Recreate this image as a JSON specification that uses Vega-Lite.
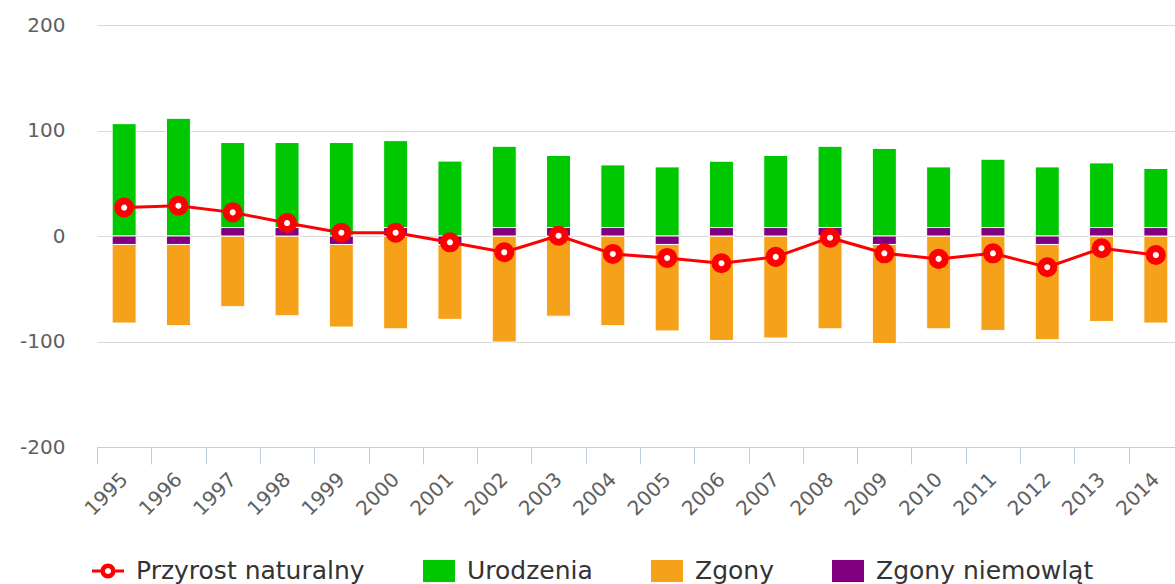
{
  "$schema": "https://vega.github.io/schema/vega-lite/v6.json",
  "width": 1078,
  "height": 422,
  "autosize": {"type": "none"},
  "padding": {"left": 97, "top": 25, "right": 0, "bottom": 137},
  "background": "white",
  "config": {"view": {"stroke": null}, "font": "DejaVu Sans"},
  "data": {
    "values": [
      {"year": "1995", "series": "Urodzenia", "value": 106.5, "ord": 1},
      {"year": "1995", "series": "Zgony", "value": -74.5, "ord": 1},
      {"year": "1995", "series": "Zgony niemowląt", "value": -8, "ord": 0},
      {"year": "1995", "series": "Przyrost naturalny", "value": 27, "ord": 2},
      {"year": "1996", "series": "Urodzenia", "value": 111.5, "ord": 1},
      {"year": "1996", "series": "Zgony", "value": -77, "ord": 1},
      {"year": "1996", "series": "Zgony niemowląt", "value": -8, "ord": 0},
      {"year": "1996", "series": "Przyrost naturalny", "value": 28.7, "ord": 2},
      {"year": "1997", "series": "Urodzenia", "value": 80.6, "ord": 1},
      {"year": "1997", "series": "Zgony", "value": -67, "ord": 1},
      {"year": "1997", "series": "Zgony niemowląt", "value": 8, "ord": 0},
      {"year": "1997", "series": "Przyrost naturalny", "value": 22.4, "ord": 2},
      {"year": "1998", "series": "Urodzenia", "value": 80.6, "ord": 1},
      {"year": "1998", "series": "Zgony", "value": -75.6, "ord": 1},
      {"year": "1998", "series": "Zgony niemowląt", "value": 8, "ord": 0},
      {"year": "1998", "series": "Przyrost naturalny", "value": 12.3, "ord": 2},
      {"year": "1999", "series": "Urodzenia", "value": 88.6, "ord": 1},
      {"year": "1999", "series": "Zgony", "value": -78.3, "ord": 1},
      {"year": "1999", "series": "Zgony niemowląt", "value": -8, "ord": 0},
      {"year": "1999", "series": "Przyrost naturalny", "value": 3.1, "ord": 2},
      {"year": "2000", "series": "Urodzenia", "value": 82.4, "ord": 1},
      {"year": "2000", "series": "Zgony", "value": -88, "ord": 1},
      {"year": "2000", "series": "Zgony niemowląt", "value": 8, "ord": 0},
      {"year": "2000", "series": "Przyrost naturalny", "value": 3.1, "ord": 2},
      {"year": "2001", "series": "Urodzenia", "value": 71, "ord": 1},
      {"year": "2001", "series": "Zgony", "value": -71, "ord": 1},
      {"year": "2001", "series": "Zgony niemowląt", "value": -8, "ord": 0},
      {"year": "2001", "series": "Przyrost naturalny", "value": -6, "ord": 2},
      {"year": "2002", "series": "Urodzenia", "value": 77, "ord": 1},
      {"year": "2002", "series": "Zgony", "value": -100.5, "ord": 1},
      {"year": "2002", "series": "Zgony niemowląt", "value": 8, "ord": 0},
      {"year": "2002", "series": "Przyrost naturalny", "value": -15.4, "ord": 2},
      {"year": "2003", "series": "Urodzenia", "value": 68.3, "ord": 1},
      {"year": "2003", "series": "Zgony", "value": -76, "ord": 1},
      {"year": "2003", "series": "Zgony niemowląt", "value": 8, "ord": 0},
      {"year": "2003", "series": "Przyrost naturalny", "value": 0.3, "ord": 2},
      {"year": "2004", "series": "Urodzenia", "value": 59.4, "ord": 1},
      {"year": "2004", "series": "Zgony", "value": -85, "ord": 1},
      {"year": "2004", "series": "Zgony niemowląt", "value": 8, "ord": 0},
      {"year": "2004", "series": "Przyrost naturalny", "value": -17, "ord": 2},
      {"year": "2005", "series": "Urodzenia", "value": 65.5, "ord": 1},
      {"year": "2005", "series": "Zgony", "value": -82, "ord": 1},
      {"year": "2005", "series": "Zgony niemowląt", "value": -8, "ord": 0},
      {"year": "2005", "series": "Przyrost naturalny", "value": -20.8, "ord": 2},
      {"year": "2006", "series": "Urodzenia", "value": 62.9, "ord": 1},
      {"year": "2006", "series": "Zgony", "value": -99, "ord": 1},
      {"year": "2006", "series": "Zgony niemowląt", "value": 8, "ord": 0},
      {"year": "2006", "series": "Przyrost naturalny", "value": -25.8, "ord": 2},
      {"year": "2007", "series": "Urodzenia", "value": 68.3, "ord": 1},
      {"year": "2007", "series": "Zgony", "value": -96.7, "ord": 1},
      {"year": "2007", "series": "Zgony niemowląt", "value": 8, "ord": 0},
      {"year": "2007", "series": "Przyrost naturalny", "value": -19.8, "ord": 2},
      {"year": "2008", "series": "Urodzenia", "value": 77, "ord": 1},
      {"year": "2008", "series": "Zgony", "value": -88, "ord": 1},
      {"year": "2008", "series": "Zgony niemowląt", "value": 8, "ord": 0},
      {"year": "2008", "series": "Przyrost naturalny", "value": -1.6, "ord": 2},
      {"year": "2009", "series": "Urodzenia", "value": 83, "ord": 1},
      {"year": "2009", "series": "Zgony", "value": -94, "ord": 1},
      {"year": "2009", "series": "Zgony niemowląt", "value": -8, "ord": 0},
      {"year": "2009", "series": "Przyrost naturalny", "value": -16.4, "ord": 2},
      {"year": "2010", "series": "Urodzenia", "value": 57.5, "ord": 1},
      {"year": "2010", "series": "Zgony", "value": -88, "ord": 1},
      {"year": "2010", "series": "Zgony niemowląt", "value": 8, "ord": 0},
      {"year": "2010", "series": "Przyrost naturalny", "value": -21.7, "ord": 2},
      {"year": "2011", "series": "Urodzenia", "value": 64.8, "ord": 1},
      {"year": "2011", "series": "Zgony", "value": -89.5, "ord": 1},
      {"year": "2011", "series": "Zgony niemowląt", "value": 8, "ord": 0},
      {"year": "2011", "series": "Przyrost naturalny", "value": -16.4, "ord": 2},
      {"year": "2012", "series": "Urodzenia", "value": 65.5, "ord": 1},
      {"year": "2012", "series": "Zgony", "value": -90.3, "ord": 1},
      {"year": "2012", "series": "Zgony niemowląt", "value": -8, "ord": 0},
      {"year": "2012", "series": "Przyrost naturalny", "value": -29.6, "ord": 2},
      {"year": "2013", "series": "Urodzenia", "value": 61.3, "ord": 1},
      {"year": "2013", "series": "Zgony", "value": -81, "ord": 1},
      {"year": "2013", "series": "Zgony niemowląt", "value": 8, "ord": 0},
      {"year": "2013", "series": "Przyrost naturalny", "value": -11.6, "ord": 2},
      {"year": "2014", "series": "Urodzenia", "value": 56, "ord": 1},
      {"year": "2014", "series": "Zgony", "value": -82.5, "ord": 1},
      {"year": "2014", "series": "Zgony niemowląt", "value": 8, "ord": 0},
      {"year": "2014", "series": "Przyrost naturalny", "value": -18, "ord": 2}
    ]
  },
  "encoding": {
    "x": {
      "field": "year",
      "type": "ordinal",
      "scale": {"type": "band", "range": [0, 1086], "paddingInner": 0, "paddingOuter": 0},
      "axis": {
        "title": null,
        "labelAngle": -45,
        "labelAlign": "right",
        "labelBaseline": "middle",
        "labelFontSize": 20,
        "labelFont": "DejaVu Sans",
        "labelColor": "#606060",
        "labelPadding": 12,
        "domainColor": "#C0D0E0",
        "domainWidth": 1,
        "tickColor": "#C0D0E0",
        "tickSize": 17,
        "tickBand": "extent",
        "grid": false
      }
    }
  },
  "layer": [
    {
      "transform": [{"filter": "datum.series !== 'Przyrost naturalny'"}],
      "mark": {"type": "bar", "width": 24, "stroke": "white", "strokeWidth": 1},
      "encoding": {
        "y": {
          "field": "value",
          "type": "quantitative",
          "stack": "zero",
          "scale": {"domain": [-200, 200], "nice": false},
          "axis": {
            "title": null,
            "values": [-200, -100, 0, 100, 200],
            "labelExpr": "'' + datum.value",
            "domain": false,
            "ticks": false,
            "labelFontSize": 20,
            "labelFont": "DejaVu Sans",
            "labelColor": "#606060",
            "labelPadding": 32,
            "grid": true,
            "gridColor": "#D8D8D8"
          }
        },
        "order": {"field": "ord", "type": "quantitative"},
        "color": {
          "field": "series",
          "type": "nominal",
          "scale": {
            "domain": ["Przyrost naturalny", "Urodzenia", "Zgony", "Zgony niemowląt"],
            "range": ["#FF0000", "#00C800", "#F6A11A", "#800080"]
          },
          "legend": {
            "orient": "none",
            "legendX": -5,
            "legendY": 530,
            "direction": "horizontal",
            "title": null,
            "padding": 0,
            "labelFontSize": 25,
            "labelFont": "DejaVu Sans",
            "labelColor": "#333333",
            "labelLimit": 500,
            "labelOffset": 12,
            "columnPadding": 58,
            "symbolSize": 1024,
            "symbolStrokeWidth": 0,
            "symbolType": {"expr": "datum.value === 'Przyrost naturalny' ? 'M-0.47,0A0.47,0.47,0,1,1,0.47,0A0.47,0.47,0,1,1,-0.47,0Z M-0.19,0A0.19,0.19,0,1,0,0.19,0A0.19,0.19,0,1,0,-0.19,0Z M-1,-0.1L-0.45,-0.1L-0.45,0.1L-1,0.1Z M0.45,-0.1L1,-0.1L1,0.1L0.45,0.1Z' : 'M-1,-0.69L1,-0.69L1,0.69L-1,0.69Z'"}
          }
        }
      }
    },
    {
      "transform": [{"filter": "datum.series === 'Przyrost naturalny'"}],
      "mark": {"type": "line", "color": "#FF0000", "strokeWidth": 3},
      "encoding": {
        "y": {"field": "value", "type": "quantitative"}
      }
    },
    {
      "transform": [{"filter": "datum.series === 'Przyrost naturalny'"}],
      "mark": {"type": "point", "shape": "circle", "filled": true, "fill": "white", "stroke": "#FF0000", "strokeWidth": 7, "size": 170, "opacity": 1},
      "encoding": {
        "y": {"field": "value", "type": "quantitative"}
      }
    }
  ]
}
